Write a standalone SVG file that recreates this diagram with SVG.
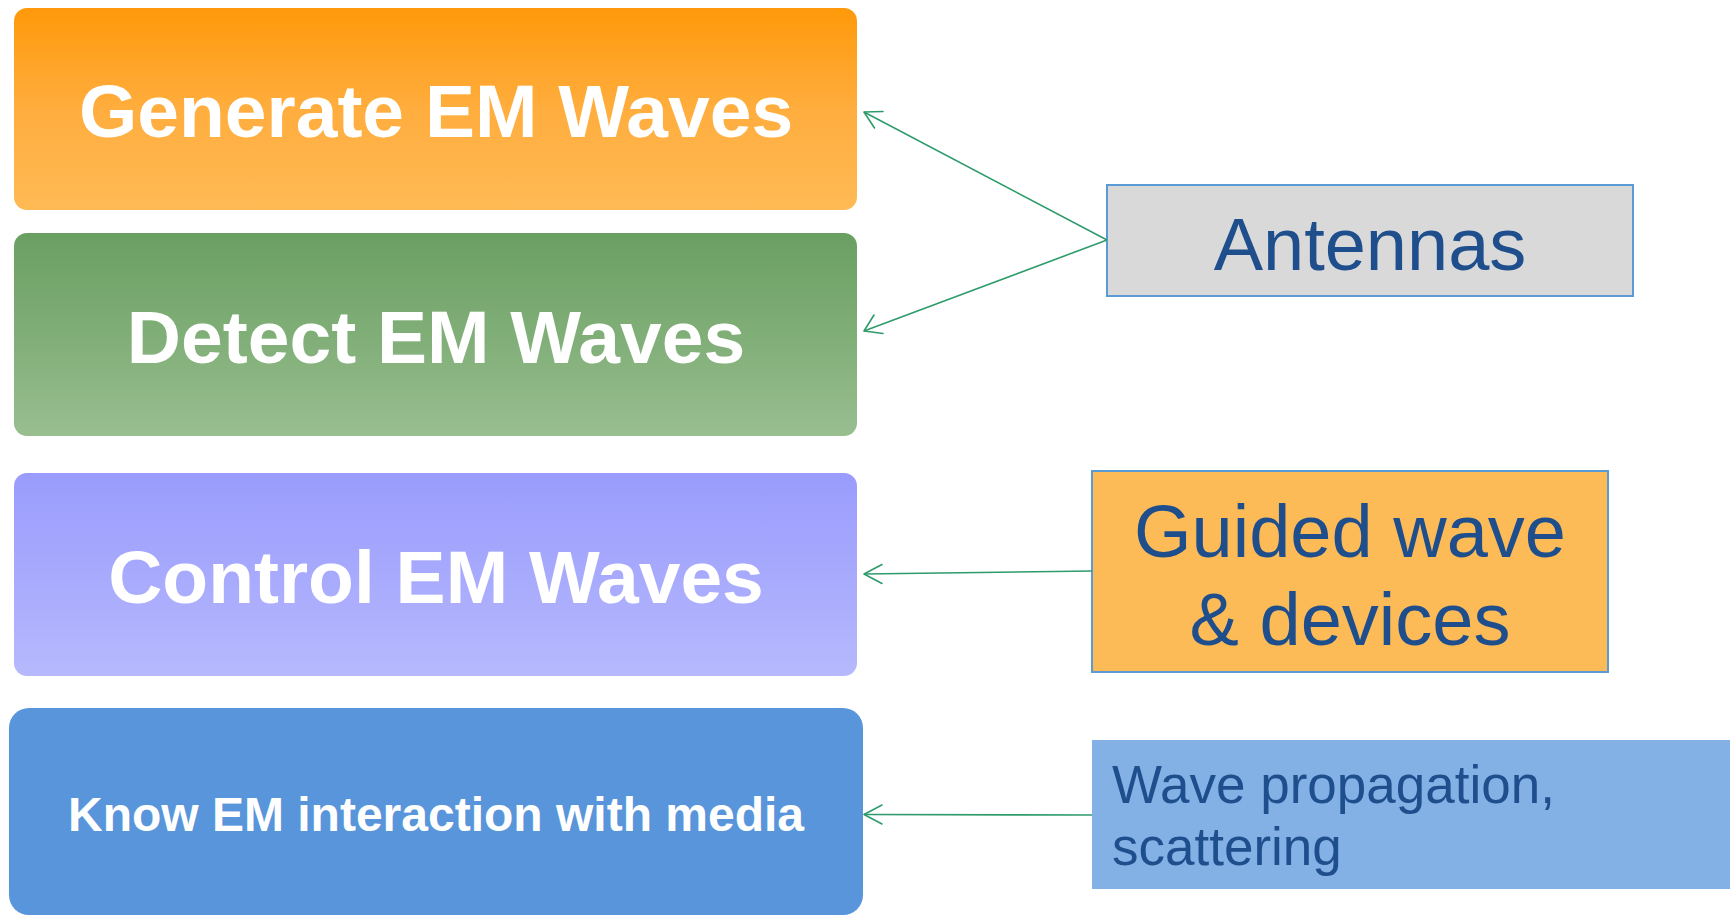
<svg xmlns="http://www.w3.org/2000/svg" width="1730" height="917" viewBox="0 0 1730 917">
<style>
.big{font-family:"Liberation Sans",Arial,sans-serif;font-weight:bold;fill:#ffffff;text-anchor:middle}
.lbl{font-family:"Liberation Sans",Arial,sans-serif;fill:#1F4E8D}
.conn{fill:none;stroke:#2F9B6B;stroke-width:1.6}
.ah{fill:none;stroke:#2F9B6B;stroke-width:1.6;stroke-linecap:round;stroke-linejoin:round}
</style>
<defs>
<linearGradient id="gOrange" x1="0" y1="0" x2="0" y2="1">
<stop offset="0" stop-color="#FF990A"/>
<stop offset="0.5" stop-color="#FFAD3E"/>
<stop offset="1" stop-color="#FFBA55"/>
</linearGradient>
<linearGradient id="gGreen" x1="0" y1="0" x2="0" y2="1">
<stop offset="0" stop-color="#6A9F62"/>
<stop offset="0.5" stop-color="#80AE77"/>
<stop offset="1" stop-color="#99BE90"/>
</linearGradient>
<linearGradient id="gPurple" x1="0" y1="0" x2="0" y2="1">
<stop offset="0" stop-color="#9A9CFD"/>
<stop offset="0.55" stop-color="#A9ABFD"/>
<stop offset="1" stop-color="#B7B9FD"/>
</linearGradient>
</defs>

<g id="node-generate">
<rect x="14" y="8" width="843" height="202" rx="13" ry="13" fill="url(#gOrange)"/>
<text class="big" x="436" y="137" font-size="75">Generate EM Waves</text>
</g>

<g id="node-detect">
<rect x="14" y="233" width="843" height="203" rx="13" ry="13" fill="url(#gGreen)"/>
<text class="big" x="436" y="363" font-size="75">Detect EM Waves</text>
</g>

<g id="node-control">
<rect x="14" y="473" width="843" height="203" rx="13" ry="13" fill="url(#gPurple)"/>
<text class="big" x="436" y="603" font-size="75">Control EM Waves</text>
</g>

<g id="node-know">
<rect x="9" y="708" width="854" height="207" rx="20" ry="20" fill="#5895DB"/>
<text class="big" x="436" y="831" font-size="48">Know EM interaction with media</text>
</g>

<g id="node-antennas">
<rect x="1107" y="185" width="526" height="111" fill="#D9D9D9" stroke="#5B9BD5" stroke-width="2"/>
<text class="lbl" x="1370" y="270" font-size="74" text-anchor="middle">Antennas</text>
</g>

<g id="node-guided">
<rect x="1092" y="471" width="516" height="201" fill="#FDBB57" stroke="#5B9BD5" stroke-width="2"/>
<text class="lbl" x="1350" y="557" font-size="74" text-anchor="middle">Guided wave</text>
<text class="lbl" x="1350" y="645" font-size="74" text-anchor="middle">&amp; devices</text>
</g>

<g id="node-wave">
<rect x="1092" y="740" width="640" height="149" fill="#83B1E5"/>
<text class="lbl" x="1112" y="803" font-size="53">Wave propagation,</text>
<text class="lbl" x="1112" y="865" font-size="53">scattering</text>
</g>

<g id="connectors">
<line class="conn" x1="1107" y1="240" x2="864" y2="112"/>
<polyline class="ah" points="883,111.5 864,112 874.5,128"/>
<line class="conn" x1="1107" y1="240" x2="864" y2="331"/>
<polyline class="ah" points="874,315 864,331 883,333.5"/>
<line class="conn" x1="1092" y1="571" x2="864" y2="574"/>
<polyline class="ah" points="882,564.5 864,574 882,583.5"/>
<line class="conn" x1="1092" y1="815" x2="864" y2="814.5"/>
<polyline class="ah" points="882,805 864,814.5 882,824"/>
</g>
</svg>
